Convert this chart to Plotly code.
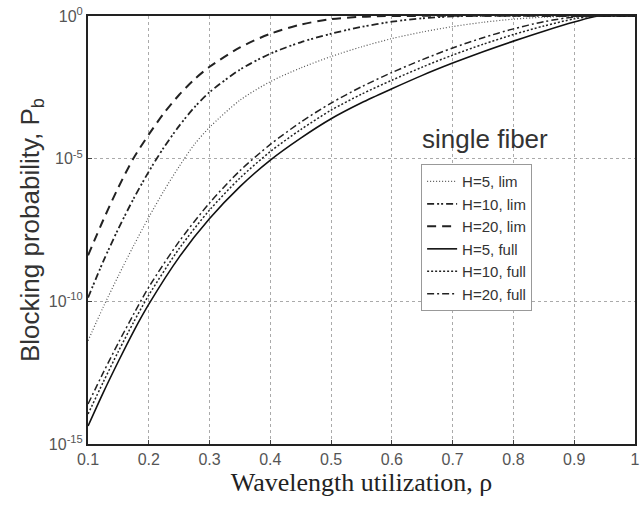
import plotly.graph_objects as go

# ---- data (values are log10 of blocking probability) ----
rho_h5_lim = [0.100, 0.125, 0.150, 0.175, 0.200, 0.225, 0.250, 0.275, 0.300, 0.350, 0.400, 0.450, 0.500, 0.550, 0.600, 0.650, 0.700, 0.750, 0.800, 0.850, 0.900, 0.920, 1.0]
log_h5_lim = [-11.38, -10.20, -9.10, -8.05, -7.05, -6.12, -5.27, -4.50, -3.90, -2.95, -2.30, -1.82, -1.42, -1.08, -0.79, -0.56, -0.37, -0.22, -0.11, -0.04, -0.005, 0.0, 0.0]

rho_h10_lim = [0.100, 0.125, 0.150, 0.175, 0.200, 0.225, 0.250, 0.275, 0.300, 0.350, 0.400, 0.450, 0.500, 0.550, 0.600, 0.650, 0.700, 0.730, 1.0]
log_h10_lim = [-9.87, -8.60, -7.45, -6.40, -5.45, -4.60, -3.85, -3.20, -2.67, -1.88, -1.32, -0.92, -0.62, -0.38, -0.20, -0.08, -0.015, 0.0, 0.0]

rho_h20_lim = [0.100, 0.125, 0.150, 0.175, 0.200, 0.225, 0.250, 0.275, 0.300, 0.350, 0.400, 0.450, 0.500, 0.550, 0.600, 1.0]
log_h20_lim = [-8.39, -7.15, -6.00, -4.98, -4.15, -3.40, -2.76, -2.22, -1.78, -1.10, -0.62, -0.30, -0.11, -0.025, 0.0, 0.0]

rho_full = [0.100, 0.125, 0.150, 0.175, 0.200, 0.250, 0.300, 0.350, 0.400, 0.450, 0.500, 0.550, 0.600, 0.650, 0.700, 0.750, 0.800, 0.850, 0.900]
log_h5_full = [-14.37, -13.20, -12.10, -11.05, -10.10, -8.45, -7.10, -5.98, -5.05, -4.28, -3.60, -3.04, -2.55, -2.08, -1.65, -1.25, -0.88, -0.53, -0.21]
log_h10_full = [-13.95, -12.83, -11.75, -10.73, -9.78, -8.15, -6.80, -5.68, -4.75, -3.98, -3.30, -2.74, -2.25, -1.79, -1.37, -0.99, -0.65, -0.35, -0.10]
log_h20_full = [-13.60, -12.50, -11.45, -10.45, -9.50, -7.90, -6.55, -5.42, -4.50, -3.72, -3.05, -2.48, -1.98, -1.53, -1.12, -0.76, -0.45, -0.20, -0.03]
rho_full_end = {"H=5, full": [0.940, 1.0], "H=10, full": [0.935, 1.0], "H=20, full": [0.930, 1.0]}
log_full_end = [0.0, 0.0]

x_ticks = [0.1, 0.2, 0.3, 0.4, 0.5, 0.6, 0.7, 0.8, 0.9, 1.0]
x_ticklabels = ["0.1", "0.2", "0.3", "0.4", "0.5", "0.6", "0.7", "0.8", "0.9", "1"]
y_ticks = [1e-15, 1e-10, 1e-5, 1e0]
y_ticklabels = ["10<sup>-15</sup>", "10<sup>-10</sup>", "10<sup>-5</sup>", "10<sup>0</sup>"]

series = [
    ("H=5, lim", rho_h5_lim, log_h5_lim, "1px,2px", 1.2, "#555"),
    ("H=10, lim", rho_h10_lim, log_h10_lim, "7px,3px,2px,2px,2px,3px", 1.8, "#222"),
    ("H=20, lim", rho_h20_lim, log_h20_lim, "9px,6px", 2.0, "#222"),
    ("H=5, full", rho_full + rho_full_end["H=5, full"], log_h5_full + log_full_end, "solid", 1.6, "#111"),
    ("H=10, full", rho_full + rho_full_end["H=10, full"], log_h10_full + log_full_end, "2px,2px", 1.5, "#222"),
    ("H=20, full", rho_full + rho_full_end["H=20, full"], log_h20_full + log_full_end, "7px,3px,2px,3px", 1.5, "#222"),
]

fig = go.Figure()
for name, xs, ls, dash, w, col in series:
    fig.add_trace(go.Scatter(
        x=xs, y=[10 ** v for v in ls], mode="lines", name=name,
        line=dict(color=col, width=w, dash=dash, shape="spline", smoothing=0.8),
    ))

fig.update_layout(
    width=643, height=506,
    margin=dict(l=88, r=8, t=16, b=62, autoexpand=False),
    paper_bgcolor="white", plot_bgcolor="white",
    font=dict(family="Liberation Sans, Arial", color="#444", size=15),
    hovermode=False,
    showlegend=True,
    legend=dict(
        x=0.609, y=0.654, xanchor="left", yanchor="top",
        bgcolor="white", bordercolor="#999", borderwidth=1,
        font=dict(size=15, color="#333"),
        itemwidth=30, tracegroupgap=0,
    ),
    annotations=[dict(
        text="single fiber", x=0.726, y=0.713, xref="paper", yref="paper",
        showarrow=False, font=dict(size=26, color="#333", family="Liberation Sans, Arial"),
        xanchor="center", yanchor="middle",
    )],
)

fig.update_xaxes(
    range=[0.0999, 1.0001], tickvals=x_ticks, ticktext=x_ticklabels,
    showgrid=True, gridcolor="#aaa", griddash="dot", gridwidth=1,
    showline=True, linecolor="#222", linewidth=2, mirror=True,
    ticks="inside", ticklen=4, tickcolor="#444",
    tickfont=dict(size=16, color="#555"), ticklabeloverflow="allow",
    title=dict(text="Wavelength utilization, ρ", font=dict(family="Liberation Serif, Times New Roman", size=26, color="#222"), standoff=4),
    zeroline=False, automargin=False,
)
fig.update_yaxes(
    type="log", range=[-15.001, 0.001], tickvals=y_ticks, ticktext=y_ticklabels,
    showgrid=True, gridcolor="#aaa", griddash="dot", gridwidth=1,
    showline=True, linecolor="#222", linewidth=2, mirror=True,
    ticks="inside", ticklen=4, tickcolor="#444",
    tickfont=dict(size=16, color="#555"), ticklabeloverflow="allow",
    title=dict(text="Blocking probability, P<sub>b</sub>", font=dict(size=26, color="#333"), standoff=2),
    zeroline=False, automargin=False,
)

# remove the browser's default 8px body margin so the figure fills the window exactly
fig.write_html("out.html", config={"displayModeBar": False},
               post_script="document.body.style.margin='0px';")
